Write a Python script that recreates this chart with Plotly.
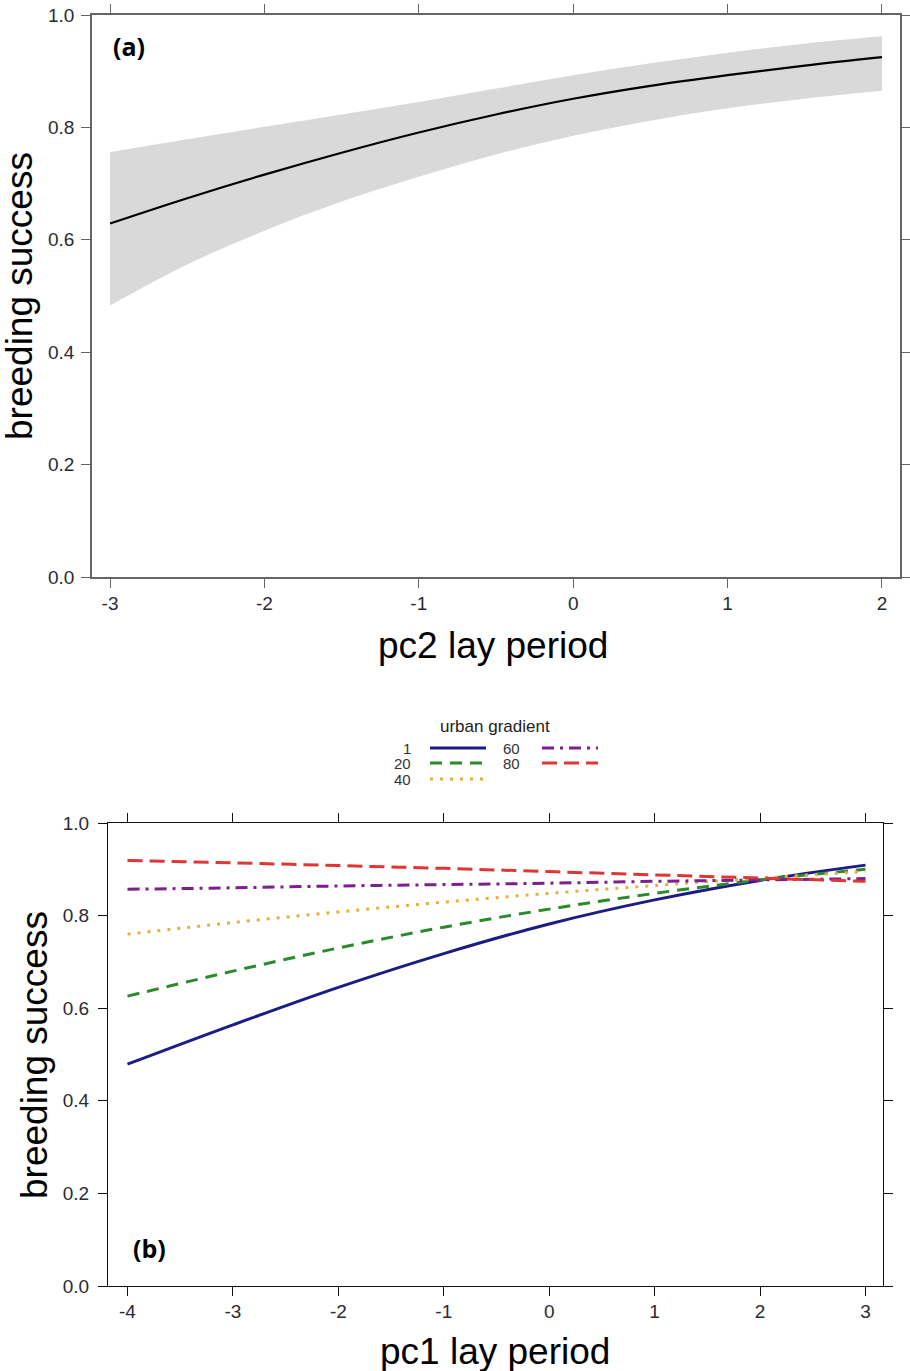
import plotly.graph_objects as go

# ---- panel (a): breeding success vs pc2 lay period, fitted curve with 95% band
pc2 = [-3.0, -2.5, -2.0, -1.5, -1.0, -0.5, 0.0, 0.5, 1.0, 1.5, 2.0]
fit_a = [0.629, 0.674, 0.716, 0.755, 0.791, 0.823, 0.851, 0.874, 0.893, 0.910, 0.925]
upper_a = [0.756, 0.779, 0.801, 0.823, 0.845, 0.869, 0.893, 0.914, 0.933, 0.949, 0.962]
lower_a = [0.483, 0.556, 0.616, 0.668, 0.712, 0.752, 0.785, 0.812, 0.834, 0.851, 0.865]

# ---- panel (b): breeding success vs pc1 lay period by urban gradient
pc1 = [-4, -3, -2, -1, 0, 1, 2, 3]
urban_levels = ["1", "20", "40", "60", "80"]
urban_1 = [0.479, 0.564, 0.645, 0.718, 0.782, 0.834, 0.876, 0.909]
urban_20 = [0.626, 0.680, 0.730, 0.775, 0.814, 0.848, 0.877, 0.900]
urban_40 = [0.760, 0.785, 0.808, 0.829, 0.848, 0.865, 0.881, 0.895]
urban_60 = [0.857, 0.860, 0.864, 0.867, 0.870, 0.874, 0.877, 0.880]
urban_80 = [0.919, 0.914, 0.908, 0.902, 0.895, 0.888, 0.881, 0.874]

y_ticks = [0.0, 0.2, 0.4, 0.6, 0.8, 1.0]
y_tick_text = ["0.0", "0.2", "0.4", "0.6", "0.8", "1.0"]
x_ticks_a = [-3, -2, -1, 0, 1, 2]
x_tick_text_a = ["-3", "-2", "-1", "0", "1", "2"]
x_ticks_b = [-4, -3, -2, -1, 0, 1, 2, 3]
x_tick_text_b = ["-4", "-3", "-2", "-1", "0", "1", "2", "3"]

W, H = 910, 1371
FONT = "Liberation Sans, Arial, sans-serif"

series_b = [urban_1, urban_20, urban_40, urban_60, urban_80]
colors_b = ["#1c1c85", "#2b8a2b", "#e2b33c", "#7d1f8c", "#e03535"]
dashes_b = ["solid", "12px,8px", "3px,7px", "12px,6px,3px,6px", "15px,7px"]


def px_x(v):
    return v / W


def px_y(v):
    return 1 - v / H


fig = go.Figure()

# confidence band (a): lower edge, then upper edge filled down to it
fig.add_trace(go.Scatter(
    x=pc2, y=lower_a, mode="lines", line=dict(width=0, shape="spline", color="#d9d9d9"),
    hoverinfo="skip", showlegend=False, xaxis="x", yaxis="y",
))
fig.add_trace(go.Scatter(
    x=pc2, y=upper_a, mode="lines", line=dict(width=0, shape="spline", color="#d9d9d9"),
    fill="tonexty", fillcolor="#d9d9d9",
    hoverinfo="skip", showlegend=False, xaxis="x", yaxis="y",
))
fig.add_trace(go.Scatter(
    x=pc2, y=fit_a, mode="lines", line=dict(color="black", width=2.2, shape="spline"),
    showlegend=False, xaxis="x", yaxis="y",
))

for name, vals, col, dash in zip(urban_levels, series_b, colors_b, dashes_b):
    fig.add_trace(go.Scatter(
        x=pc1, y=vals, mode="lines", name=name,
        line=dict(color=col, width=3, dash=dash, shape="spline"),
        showlegend=False, xaxis="x2", yaxis="y2",
    ))

common_axis = dict(
    showgrid=False, zeroline=False, showline=True, mirror="ticks",
    ticks="outside", ticklen=9, tickwidth=1.2, automargin=False,
    tickfont=dict(family=FONT, size=19, color="#2a2a33"),
)

fig.update_layout(
    template="none",
    width=W, height=H,
    margin=dict(l=0, r=0, t=0, b=0, autoexpand=False),
    paper_bgcolor="white", plot_bgcolor="white",
    showlegend=False,
    xaxis=dict(
        common_axis, domain=[px_x(92), px_x(900)], range=[-3.117, 2.117],
        tickvals=x_ticks_a, ticktext=x_tick_text_a,
        linecolor="#666666", tickcolor="#666666", linewidth=1.5,
        anchor="y", ticklabelstandoff=-1,
    ),
    yaxis=dict(
        common_axis, domain=[px_y(577), px_y(15)], range=[0, 1],
        tickvals=y_ticks, ticktext=y_tick_text,
        linecolor="#666666", tickcolor="#666666",
        linewidth=1.5, anchor="x", ticklabelstandoff=3,
    ),
    xaxis2=dict(
        common_axis, domain=[px_x(108), px_x(883)], range=[-4.185, 3.166],
        tickvals=x_ticks_b, ticktext=x_tick_text_b,
        linecolor="#111111", tickcolor="#111111", linewidth=1.3,
        anchor="y2", ticklabelstandoff=-1,
    ),
    yaxis2=dict(
        common_axis, domain=[px_y(1286), px_y(823)], range=[0, 1],
        tickvals=y_ticks, ticktext=y_tick_text,
        linecolor="#111111", tickcolor="#111111",
        linewidth=1.3, anchor="x2", ticklabelstandoff=5,
    ),
)

centered = dict(showarrow=False, xanchor="center", yanchor="middle")
annotations = [
    # panel letters
    dict(centered, text="<b>(a)</b>", xref="x domain", yref="y domain", x=0.046, y=0.945,
         font=dict(family="Open Sans, sans-serif", size=25, color="black")),
    dict(centered, text="<b>(b)</b>", xref="x2 domain", yref="y2 domain", x=0.054, y=0.082,
         font=dict(family="Open Sans, sans-serif", size=25, color="black")),
    # axis titles
    dict(centered, text="breeding success", xref="paper", yref="paper", x=px_x(19), y=px_y(296),
         textangle=-90, font=dict(family=FONT, size=37, color="black")),
    dict(centered, text="pc2 lay period", xref="paper", yref="paper", x=px_x(493), y=px_y(645),
         font=dict(family=FONT, size=37, color="black")),
    dict(centered, text="breeding success", xref="paper", yref="paper", x=px_x(34), y=px_y(1055),
         textangle=-90, font=dict(family=FONT, size=37, color="black")),
    dict(centered, text="pc1 lay period", xref="paper", yref="paper", x=px_x(495), y=px_y(1351),
         font=dict(family=FONT, size=37, color="black")),
    # key title
    dict(centered, text="urban gradient", xref="paper", yref="paper", x=px_x(495), y=px_y(727),
         font=dict(family=FONT, size=17, color="#222222")),
]

# key entries: label to the left of its line sample, two columns
key_rows = [(413, 430, 486, 748), (413, 430, 486, 763), (413, 430, 486, 779),
            (522, 542, 598, 748), (522, 542, 598, 763)]
shapes = []
for name, col, dash, (lx, x0, x1, yy) in zip(urban_levels, colors_b, dashes_b, key_rows):
    annotations.append(dict(
        text=name, xref="paper", yref="paper", x=px_x(lx), y=px_y(yy),
        xanchor="right", yanchor="middle", showarrow=False,
        font=dict(family=FONT, size=15, color="#333333"),
    ))
    shapes.append(dict(
        type="line", xref="paper", yref="paper",
        x0=px_x(x0), x1=px_x(x1), y0=px_y(yy), y1=px_y(yy),
        line=dict(color=col, width=3, dash=dash),
    ))

fig.update_layout(annotations=annotations, shapes=shapes)

fig.write_html("out.html")
